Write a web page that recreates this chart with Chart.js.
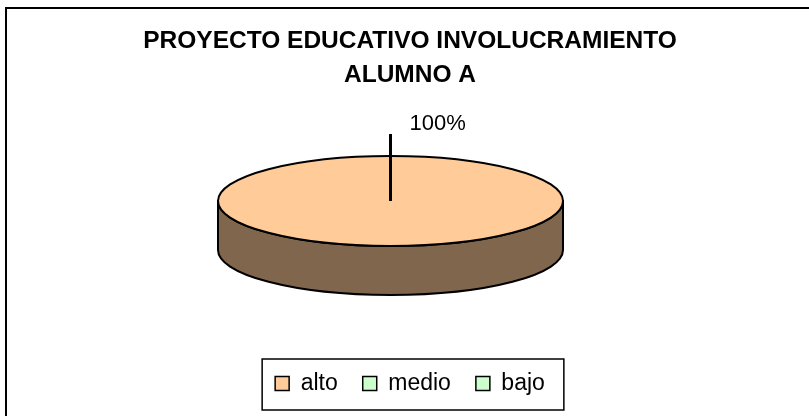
<!DOCTYPE html>
<html lang="es">
<head>
    <meta charset="UTF-8">
    <title>Proyecto educativo involucramiento - Alumno A</title>
    <script src="https://cdn.jsdelivr.net/npm/chart.js"></script>
    <style>
        body {
            margin: 0;
            background: #fff;
        }
        #wrap {
            width: 809px;
            height: 416px;
            position: relative;
        }
    </style>
</head>
<body>
    <div id="wrap">
        <canvas id="pieChart"></canvas>
    </div>

    <script>
        const titleLines = ["PROYECTO EDUCATIVO INVOLUCRAMIENTO", "ALUMNO A"];
        const categories = ["alto", "medio", "bajo"];
        const values = [100, 0, 0];
        const sliceColors = ["#FFCC99", "#CCFFCC", "#CCFFCC"];
        const sideColors = ["#80664D", "#669966", "#669966"];

        const FONT = "'Liberation Sans', Arial, sans-serif";

        // where the flattened pie sits on the page
        const ellipse = { cx: 390.5, cy: 201, rx: 172.5, ry: 45, depth: 49 };

        // outer frame of the chart (runs off the right and bottom edges)
        const framePlugin = {
            id: "frame",
            beforeDraw(chart) {
                const ctx = chart.ctx;
                ctx.save();
                ctx.strokeStyle = "#000";
                ctx.lineWidth = 2;
                ctx.strokeRect(6, 8, 900, 600);
                ctx.restore();
            }
        };

        function arcAngles(chart) {
            return chart.getDatasetMeta(0).data.map(arc =>
                arc.getProps(["x", "y", "outerRadius", "startAngle", "endAngle"], true));
        }

        function drawSide(ctx, e, a, b, color) {
            ctx.save();
            ctx.beginPath();
            ctx.ellipse(e.cx, e.cy, e.rx, e.ry, 0, a, b, false);
            ctx.ellipse(e.cx, e.cy + e.depth, e.rx, e.ry, 0, b, a, true);
            ctx.closePath();
            ctx.fillStyle = color;
            ctx.fill();
            ctx.lineWidth = 2;
            ctx.lineJoin = "round";
            ctx.strokeStyle = "#000";
            ctx.stroke();
            ctx.restore();
        }

        // draw the pie as a tilted disc: side wall, squashed top, outlines
        const pie3dPlugin = {
            id: "pie3d",
            beforeDatasetsDraw(chart) {
                const ctx = chart.ctx;
                const arcs = arcAngles(chart);
                const e = ellipse;

                // side wall, only the front half (angles 0..PI) is visible
                arcs.forEach((p, i) => {
                    const sweep = p.endAngle - p.startAngle;
                    if (sweep <= 0) return;
                    if (sweep >= 2 * Math.PI - 1e-6) {
                        drawSide(ctx, e, 0, Math.PI, sideColors[i]);
                        return;
                    }
                    let s = p.startAngle % (2 * Math.PI);
                    if (s < 0) s += 2 * Math.PI;
                    const end = s + sweep;
                    [[0, Math.PI], [2 * Math.PI, 3 * Math.PI]].forEach(([lo, hi]) => {
                        const a = Math.max(s, lo), b = Math.min(end, hi);
                        if (b > a) drawSide(ctx, e, a, b, sideColors[i]);
                    });
                });

                // squash the library's round pie into the top ellipse
                const p0 = arcs[0];
                ctx.save();
                ctx.translate(e.cx, e.cy);
                ctx.scale(e.rx / p0.outerRadius, e.ry / p0.outerRadius);
                ctx.translate(-p0.x, -p0.y);
            },
            afterDatasetsDraw(chart) {
                const ctx = chart.ctx;
                ctx.restore();
                const e = ellipse;
                const arcs = arcAngles(chart);
                const total = values.reduce((a, b) => a + b, 0);

                arcs.forEach((p, i) => {
                    const sweep = p.endAngle - p.startAngle;
                    if (sweep <= 0) return;
                    ctx.save();
                    ctx.beginPath();
                    if (sweep >= 2 * Math.PI - 1e-6) {
                        ctx.ellipse(e.cx, e.cy, e.rx, e.ry, 0, 0, 2 * Math.PI);
                    } else {
                        ctx.moveTo(e.cx, e.cy);
                        ctx.ellipse(e.cx, e.cy, e.rx, e.ry, 0, p.startAngle, p.endAngle);
                        ctx.closePath();
                    }
                    ctx.lineWidth = 2;
                    ctx.strokeStyle = "#000";
                    ctx.stroke();

                    // leader line and percentage label
                    const mid = (p.startAngle + p.endAngle) / 2;
                    const ex = e.cx + (e.rx + 22) * Math.cos(mid);
                    const ey = e.cy + (e.ry + 22) * Math.sin(mid);
                    ctx.beginPath();
                    ctx.moveTo(e.cx, e.cy);
                    ctx.lineTo(ex, ey);
                    ctx.lineWidth = 3;
                    ctx.stroke();

                    ctx.fillStyle = "#000";
                    ctx.font = "22px " + FONT;
                    ctx.textAlign = "left";
                    ctx.textBaseline = "middle";
                    ctx.fillText(Math.round(values[i] / total * 100) + "%", ex + 19, ey - 10);
                    ctx.restore();
                });
            }
        };

        // box round the legend
        const legendBoxPlugin = {
            id: "legendBox",
            afterDraw(chart) {
                const boxes = chart.legend.legendHitBoxes;
                if (!boxes || !boxes.length) return;
                const first = boxes[0], last = boxes[boxes.length - 1];
                const ctx = chart.ctx;
                ctx.save();
                ctx.strokeStyle = "#000";
                ctx.lineWidth = 1.5;
                const left = first.left - 13;
                const right = last.left + last.width + 19;
                const top = first.top - 13;
                const bottom = first.top + first.height + 15;
                ctx.strokeRect(left, top, right - left, bottom - top);
                ctx.restore();
            }
        };

        const ctx = document.getElementById("pieChart").getContext("2d");
        new Chart(ctx, {
            type: "pie",
            data: {
                labels: categories,
                datasets: [{
                    data: values,
                    backgroundColor: sliceColors,
                    borderWidth: 0
                }]
            },
            options: {
                responsive: true,
                maintainAspectRatio: false,
                animation: false,
                rotation: 180,
                layout: {
                    padding: { left: 11, right: 0, top: 0, bottom: 11 }
                },
                plugins: {
                    tooltip: { enabled: false },
                    title: {
                        display: true,
                        text: titleLines,
                        color: "#000",
                        font: { family: FONT, size: 24.5, weight: "bold", lineHeight: 34 / 24.5 },
                        padding: { top: 24, bottom: 10 }
                    },
                    legend: {
                        position: "bottom",
                        labels: {
                            color: "#000",
                            font: { family: FONT, size: 23 },
                            boxWidth: 14,
                            boxHeight: 14,
                            padding: 25,
                            generateLabels(chart) {
                                const items = Chart.overrides.pie.plugins.legend.labels.generateLabels(chart);
                                items.forEach(it => {
                                    it.strokeStyle = "#000";
                                    it.lineWidth = 1.5;
                                    it.hidden = false;
                                });
                                return items;
                            }
                        }
                    }
                }
            },
            plugins: [framePlugin, pie3dPlugin, legendBoxPlugin]
        });
    </script>
</body>
</html>
